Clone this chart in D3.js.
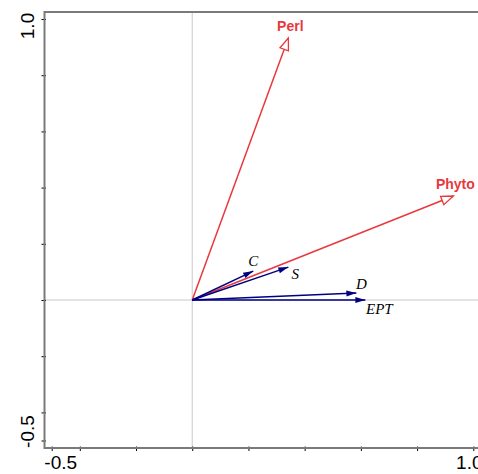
<html>
    <head>
        <meta charset="utf-8">
        <script src="https://d3js.org/d3.v7.min.js"></script>
        <title>Biplot</title>
    </head>
    <style>
        body { margin: 0; background: #fff; }
        .ticks line { stroke: #000; }
        .ticks .domain { stroke: none; }
    </style>
    <body>
        <svg id="svg1"></svg>
        <script>
            // species / environment arrows (ordination scores)
            const envNames = ["Perl", "Phyto"];
            const envX = [0.342, 0.929];
            const envY = [0.932, 0.370];

            const spNames = ["C", "S", "D", "EPT"];
            const spX = [0.217, 0.342, 0.584, 0.616];
            const spY = [0.103, 0.117, 0.025, 0.0];

            const tickValues = [-0.5, -0.4, -0.2, 0, 0.2, 0.4, 0.6, 0.8, 1.0];
            const tickLabels = [-0.5, 1.0];

            const width = 478;
            const height = 474;
            let svg1 = d3.select("svg#svg1")
                         .attr("width", width)
                         .attr("height", height)

            // plot frame
            const frame = {left: 44.5, top: 12, right: 480, bottom: 448};

            const scaleX = d3.scaleLinear()
                             .domain([-0.5, 1.0])
                             .range([51.7, 473.3]);
            const scaleY = d3.scaleLinear()
                             .domain([-0.5, 1.0])
                             .range([440.5, 19]);

            const red = "#e8383d";
            const navy = "#000080";

            // zero lines
            svg1.append("line")
                .attr("x1", scaleX(0)).attr("x2", scaleX(0))
                .attr("y1", frame.top).attr("y2", frame.bottom)
                .attr("stroke", "#c8c8c8").attr("stroke-width", 1);
            svg1.append("line")
                .attr("x1", frame.left).attr("x2", frame.right)
                .attr("y1", scaleY(0)).attr("y2", scaleY(0))
                .attr("stroke", "#c8c8c8").attr("stroke-width", 1);

            // ticks
            let leftAxis = d3.axisLeft(scaleY)
                             .tickValues(tickValues)
                             .tickSize(3)
                             .tickFormat("");
            let botAxis = d3.axisBottom(scaleX)
                            .tickValues(tickValues)
                            .tickSize(3)
                            .tickFormat("");

            svg1.append("g")
                .attr("class", "ticks")
                .attr("transform", `translate(${frame.left}, 0)`)
                .call(leftAxis)
                .selectAll(".tick line").attr("x2", -3).attr("x1", 1.5);
            svg1.append("g")
                .attr("class", "ticks")
                .attr("transform", `translate(0, ${frame.bottom})`)
                .call(botAxis)
                .selectAll(".tick line").attr("y2", 3).attr("y1", -1.5);

            // frame lines
            svg1.append("path")
                .attr("d", `M${frame.right},${frame.top}H${frame.left}V${frame.bottom}H${frame.right}`)
                .attr("fill", "none")
                .attr("stroke", "#7a7a7a")
                .attr("stroke-width", 2);

            // tick labels
            svg1.selectAll("text.xlab")
                .data(tickLabels)
                .join("text")
                .attr("class", "xlab")
                .attr("x", d => scaleX(d) + (d < 0 ? 9 : -4))
                .attr("y", 469)
                .attr("text-anchor", "middle")
                .style("font", "19px 'Liberation Sans', Arial, sans-serif")
                .text(d => d.toFixed(1));
            svg1.selectAll("text.ylab")
                .data(tickLabels)
                .join("text")
                .attr("class", "ylab")
                .attr("transform", d => `translate(34, ${scaleY(d) + (d < 0 ? -9 : 7)}) rotate(-90)`)
                .attr("text-anchor", "middle")
                .style("font", "19px 'Liberation Sans', Arial, sans-serif")
                .text(d => d.toFixed(1));

            // arrow heads
            function head(x, y, ang, len, half) {
                const c = Math.cos(ang), s = Math.sin(ang);
                const bx = x - len * c, by = y - len * s;
                return `M${x},${y}L${bx - half * s},${by + half * c}L${bx + half * s},${by - half * c}Z`;
            }

            const ox = scaleX(0), oy = scaleY(0);

            // environmental arrows (red, open heads)
            let env = svg1.append("g")
                          .selectAll("g")
                          .data(envNames.map((n, i) => ({name: n, x: envX[i], y: envY[i]})))
                          .join("g");
            env.append("line")
               .attr("x1", ox).attr("y1", oy)
               .attr("x2", d => scaleX(d.x)).attr("y2", d => scaleY(d.y))
               .attr("stroke", red).attr("stroke-width", 1.5);
            env.append("path")
               .attr("d", d => head(scaleX(d.x), scaleY(d.y),
                    Math.atan2(scaleY(d.y) - oy, scaleX(d.x) - ox), 12, 4.5))
               .attr("fill", "#fff").attr("stroke", red).attr("stroke-width", 1.3);
            env.append("text")
               .attr("x", d => scaleX(d.x) + 2)
               .attr("y", d => scaleY(d.y) - 7)
               .attr("text-anchor", "middle")
               .attr("fill", red)
               .style("font", "bold 14px 'Liberation Sans', Arial, sans-serif")
               .text(d => d.name);

            // species arrows (navy, filled heads)
            const spOffset = {C: [0, -5], S: [7, 12], D: [5, -4], EPT: [14, 14]};
            let sp = svg1.append("g")
                         .selectAll("g")
                         .data(spNames.map((n, i) => ({name: n, x: spX[i], y: spY[i]})))
                         .join("g");
            sp.append("line")
              .attr("x1", ox).attr("y1", oy)
              .attr("x2", d => scaleX(d.x)).attr("y2", d => scaleY(d.y))
              .attr("stroke", navy).attr("stroke-width", 1.5);
            sp.append("path")
              .attr("d", d => head(scaleX(d.x), scaleY(d.y),
                   Math.atan2(scaleY(d.y) - oy, scaleX(d.x) - ox), 10, 3))
              .attr("fill", navy);
            sp.append("text")
              .attr("x", d => scaleX(d.x) + spOffset[d.name][0])
              .attr("y", d => scaleY(d.y) + spOffset[d.name][1])
              .attr("text-anchor", "middle")
              .attr("fill", "#000")
              .style("font", "italic 15px 'Liberation Serif', 'Times New Roman', serif")
              .text(d => d.name);
        </script>
    </body>
</html>
